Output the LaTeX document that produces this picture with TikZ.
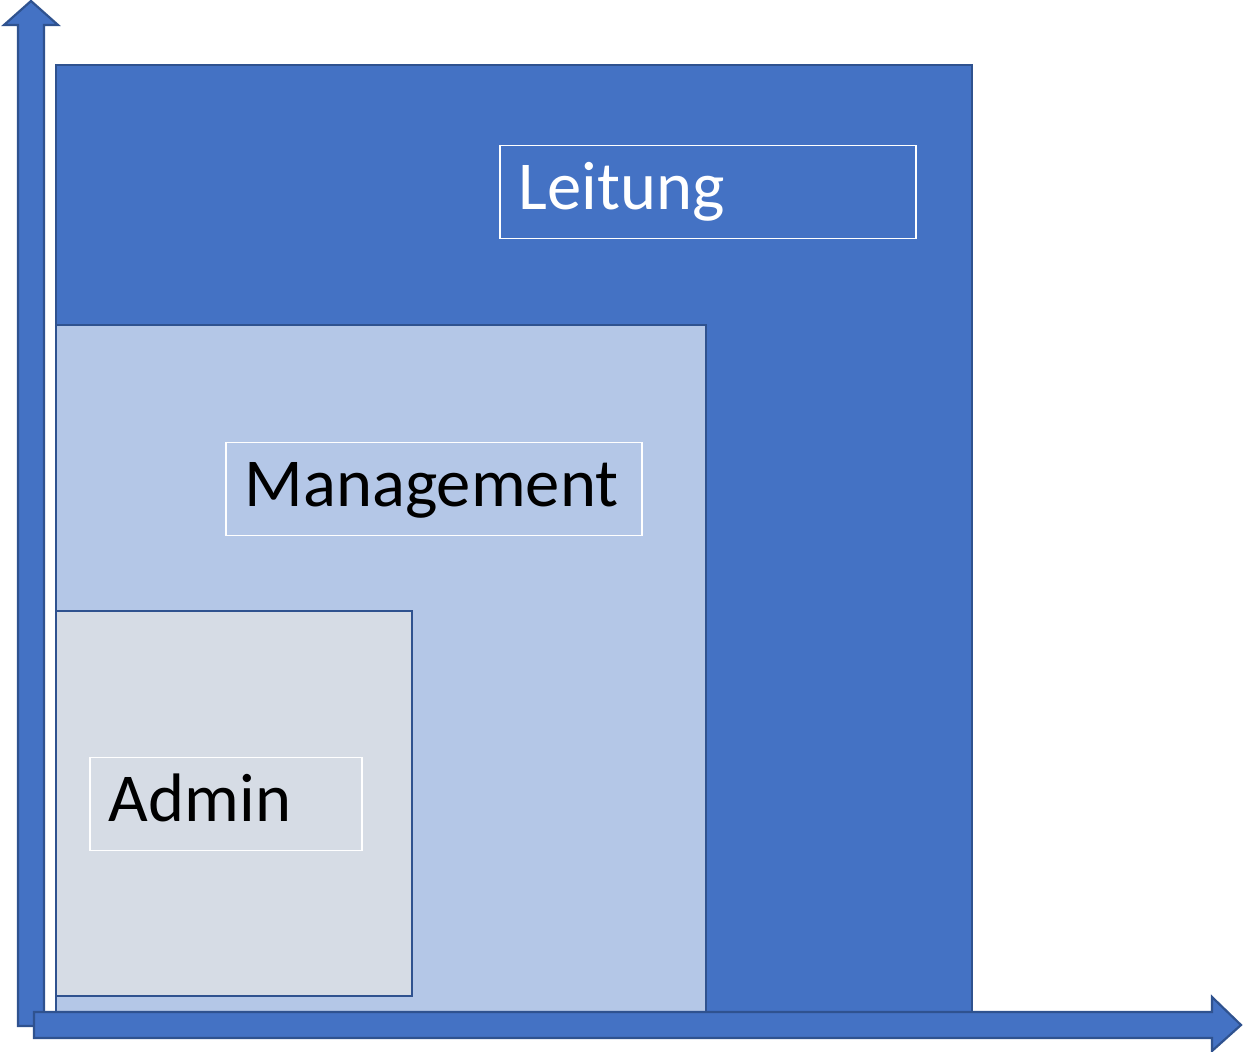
\documentclass[tikz,border=0pt]{standalone}
\usepackage{fontspec}
\setmainfont{Carlito}
\usepackage{tikz}
\usetikzlibrary{positioning}

\definecolor{dunkelblau}{HTML}{4472C4}
\definecolor{rand}{HTML}{2F528F}
\definecolor{hellblau}{HTML}{B4C7E7}
\definecolor{grau}{HTML}{D6DCE5}

\tikzset{
  ebene/.style={draw=rand, line width=1.1pt},
  achse/.style={draw=rand, line width=1.1pt, fill=dunkelblau, line join=miter},
  etikett/.style={draw=white, line width=0.75pt, rectangle, anchor=north west,
    minimum height=46.5pt, inner xsep=9.5pt, inner ysep=0pt, align=left,
    text height=25pt, text depth=8pt,
    font=\fontsize{34.3}{40}\selectfont}
}

\begin{document}
\begin{tikzpicture}[x=0.5pt, y=-0.5pt]
				\useasboundingbox (0,0) rectangle (1243,1052);

				% Ebenen
				\draw [ebene, fill=dunkelblau] (56,65) rectangle (972,1012);
				\draw [ebene, fill=hellblau] (56,325) rectangle (706,1012);
				\draw [ebene, fill=grau] (56,611) rectangle (412,996);

				% Beschriftungen
				\node [etikett, text=white, minimum width=208pt, text width=189pt] (leitung) at (499,145) {Leitung};
				\node [etikett, text=black, minimum width=208pt, text width=189pt] (management) at (225,442) {Management};
				\node [etikett, text=black, minimum width=136pt, text width=117pt] (admin) at (89,757) {Admin};

				% Achsen
				\draw [achse] (18,1026) -- (18,25) -- (4,25) -- (31,1) -- (58,25) -- (44,25) -- (44,1026) -- cycle;
				\draw [achse] (34,1012) -- (1212,1012) -- (1212,997) -- (1241,1025) -- (1212,1051) -- (1212,1038) -- (34,1038) -- cycle;
		\end{tikzpicture}
\end{document}
